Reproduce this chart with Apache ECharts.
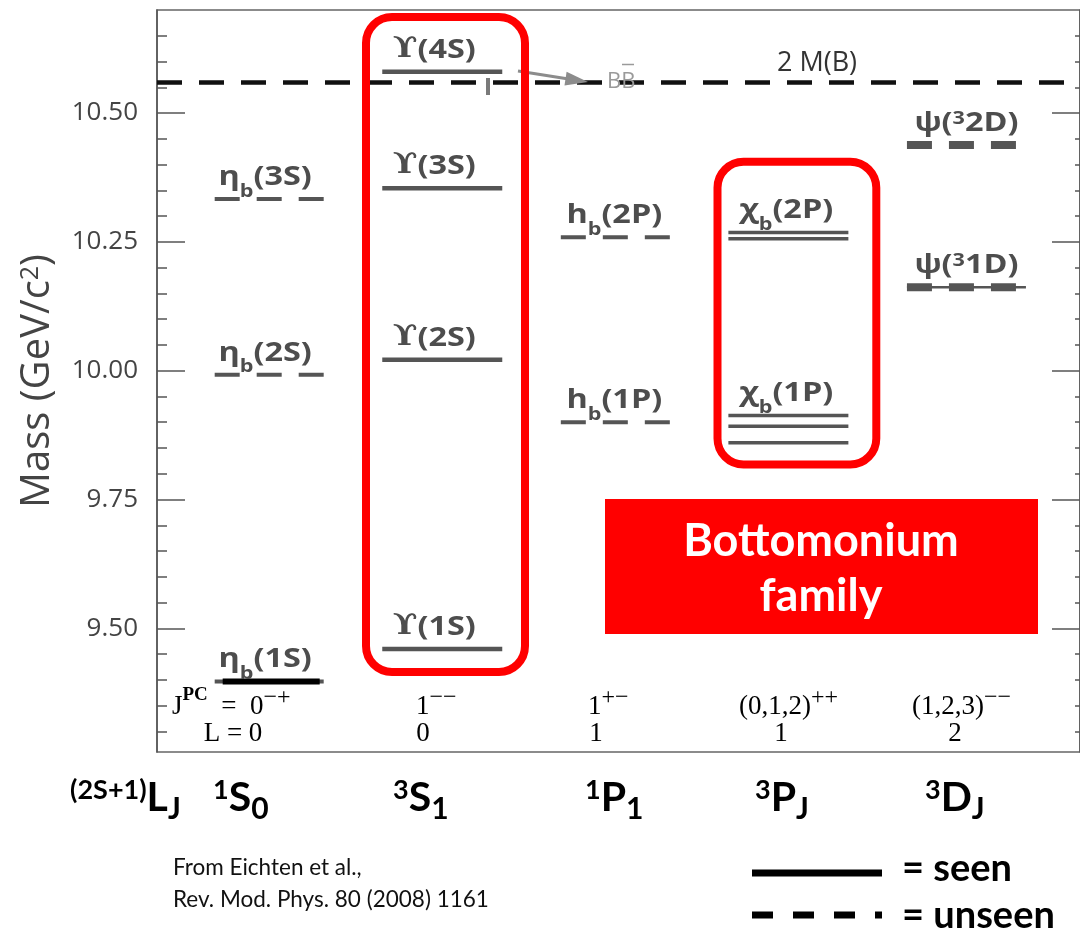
<!DOCTYPE html>
<html>
<head>
<meta charset="utf-8">
<title>Bottomonium family</title>
<script src="https://cdn.jsdelivr.net/npm/echarts@6/dist/echarts.min.js"></script>
<style>
  html, body { margin: 0; padding: 0; background: #ffffff; }
  #chart { width: 1080px; height: 934px; }
</style>
</head>
<body>
<div id="chart"></div>
<script>
// ---------------------------------------------------------------- data
// Spectroscopic columns, left to right: 1S0, 3S1, 1P1, 3PJ, 3DJ
const columnLabels = ['{p|1}{m|S}{b|0}', '{p|3}{m|S}{b|1}', '{p|1}{m|P}{b|1}', '{p|3}{m|P}{b|J}', '{p|3}{m|D}{b|J}'];
const jpcLabels = ['{m|J}{q|PC}{m|  =  0}{p|−+}', '{m|1}{p|−−}', '{m|1}{p|+−}', '{m|(0,1,2)}{p|++}', '{m|(1,2,3)}{p|−−}'];
const orbitalL = ['L = 0', '0', '1', '1', '2'];

// Masses in GeV/c²
const etaMass = [9.397, 9.992, 10.333];               // η_b(1S), η_b(2S), η_b(3S)
const etaNames = ['1S', '2S', '3S'];
const upsilonMass = [9.460, 10.021, 10.354, 10.580];  // ϒ(1S) … ϒ(4S)
const upsilonNames = ['1S', '2S', '3S', '4S'];
const hbMass = [9.900, 10.259];                       // h_b(1P), h_b(2P)
const hbNames = ['1P', '2P'];
const chi1PMass = [9.860, 9.892, 9.913];              // χ_b(1P) triplet
const chi2PMass = [10.256, 10.268];                   // χ_b(2P) triplet (two resolved lines)
const psiMass = [10.162, 10.438];                     // ψ(³1D), ψ(³2D)
const psiNames = ['1D', '2D'];
const bbThreshold = 10.559;                           // 2 M(B)

const massTicks = [9.50, 9.75, 10.00, 10.25, 10.50];

// ---------------------------------------------------------------- layout / styles
const GREY = '#555555';
const LABEL_GREY = '#4d4d4d';
const COL0 = 269.8, COL_STEP = 174, PLOT_LEFT = 157, PLOT_RIGHT = 1085;
const X_MIN = -(COL0 - PLOT_LEFT) / COL_STEP;
const X_MAX = X_MIN + (PLOT_RIGHT - PLOT_LEFT) / COL_STEP;
const Y_MIN = 9.26, Y_MAX = 10.70;

const minorTicks = [];
for (let v = 9.30; v < 10.69; v += 0.05) {
  const r = Math.round(v * 100) / 100;
  if (!massTicks.some(t => Math.abs(t - r) < 1e-6)) minorTicks.push(r);
}

const levelStyles = {
  unseen:     { half: 54.5, width: 4,   dash: [25, 17] },
  seen:       { half: 60,   width: 4.5, dash: null },
  seenThin:   { half: 60,   width: 3.5, dash: null },
  unseenBold: { half: 54.5, width: 8,   dash: [25, 17] },
  partial:    { half: 54.5, width: 8,   dash: [25, 17], thread: 10 },
  mark:       { half: 48.5, width: 6,   dash: null, color: '#000000', shift: 2 }
};

// level list built from the mass arrays
const levels = [];
etaMass.forEach(m => levels.push({ col: 0, mass: m, kind: 'unseen' }));
levels.push({ col: 0, mass: etaMass[0], kind: 'mark' });
upsilonMass.forEach(m => levels.push({ col: 1, mass: m, kind: 'seen' }));
hbMass.forEach(m => levels.push({ col: 2, mass: m, kind: 'unseen' }));
chi1PMass.forEach(m => levels.push({ col: 3, mass: m, kind: 'seenThin' }));
chi2PMass.forEach(m => levels.push({ col: 3, mass: m, kind: 'seenThin' }));
levels.push({ col: 4, mass: psiMass[0], kind: 'partial' });
levels.push({ col: 4, mass: psiMass[1], kind: 'unseenBold' });

// state labels above the levels
const stateLabels = [];
etaMass.forEach((m, i) => stateLabels.push({ col: 0, mass: m, dx: -4, text: '{g|η}{s|b}{g|(' + etaNames[i] + ')}' }));
upsilonMass.forEach((m, i) => stateLabels.push({ col: 1, mass: m, dx: -8, text: '{u|ϒ}{g|(' + upsilonNames[i] + ')}' }));
hbMass.forEach((m, i) => stateLabels.push({ col: 2, mass: m, dx: -1, text: '{g|h}{s|b}{g|(' + hbNames[i] + ')}' }));
stateLabels.push({ col: 3, mass: Math.max(...chi1PMass), dx: -2, text: '{g|χ}{s|b}{g|(1P)}' });
stateLabels.push({ col: 3, mass: Math.max(...chi2PMass), dx: -2, text: '{g|χ}{s|b}{g|(2P)}' });
psiMass.forEach((m, i) => stateLabels.push({ col: 4, mass: m, dx: 5, text: '{g|ψ(}{p|3}{g|' + psiNames[i] + ')}' }));

const stateRich = {
  g: { fontSize: 27, fontFamily: 'Open Sans', fontWeight: 'bold', fill: LABEL_GREY, verticalAlign: 'top', lineHeight: 37 },
  u: { fontSize: 27, fontFamily: 'DejaVu Serif', fontWeight: 'bold', fill: LABEL_GREY, verticalAlign: 'top', lineHeight: 37 },
  s: { fontSize: 18, fontFamily: 'Open Sans', fontWeight: 'bold', fill: LABEL_GREY, verticalAlign: 'bottom', lineHeight: 37 },
  p: { fontSize: 18, fontFamily: 'Open Sans', fontWeight: 'bold', fill: LABEL_GREY, verticalAlign: 'top', lineHeight: 37 }
};

// ---------------------------------------------------------------- chart
const chart = echarts.init(document.getElementById('chart'), null, { renderer: 'canvas' });

function sideAxis(position, ticks, len, withLine) {
  return {
    type: 'value', position, min: Y_MIN, max: Y_MAX,
    axisLine: { show: withLine, onZero: false, lineStyle: { color: GREY, width: 1.5 } },
    axisTick: { show: true, inside: true, length: len, customValues: ticks, lineStyle: { color: GREY, width: 1.5 } },
    axisLabel: { show: false },
    splitLine: { show: false }
  };
}

const leftMajor = sideAxis('left', massTicks, 28, true);
leftMajor.axisLabel = {
  show: true, customValues: massTicks, formatter: v => v.toFixed(2),
  color: '#444444', fontSize: 26, fontFamily: 'Open Sans', margin: 19
};
leftMajor.name = 'Mass (GeV/c{sup|2})';
leftMajor.nameLocation = 'middle';
leftMajor.nameGap = 99;
leftMajor.nameTextStyle = {
  color: '#444444', fontSize: 40, fontFamily: 'Open Sans',
  rich: { sup: { color: '#444444', fontSize: 25, fontFamily: 'Open Sans', verticalAlign: 'top', lineHeight: 25 } }
};

function textEl(x, y, text, rich, align, vAlign, z) {
  return { type: 'text', x, y, z: z || 20, silent: true,
           style: { text, rich, align: align || 'left', verticalAlign: vAlign || 'middle' } };
}

// rich styles for annotation texts outside the plot
const termRich = {
  m: { fontSize: 41, fontFamily: 'Lato', fontWeight: 'bold', fill: '#000', verticalAlign: 'top', lineHeight: 47 },
  p: { fontSize: 27, fontFamily: 'Lato', fontWeight: 'bold', fill: '#000', verticalAlign: 'top', lineHeight: 47 },
  b: { fontSize: 30, fontFamily: 'Lato', fontWeight: 'bold', fill: '#000', verticalAlign: 'bottom', lineHeight: 47 }
};
const jpcRich = {
  m: { fontSize: 27, fontFamily: 'Liberation Serif', fill: '#000', verticalAlign: 'bottom', lineHeight: 35 },
  p: { fontSize: 24, fontFamily: 'Liberation Serif', fill: '#000', verticalAlign: 'top', lineHeight: 35 },
  q: { fontSize: 19, fontFamily: 'Liberation Serif', fontWeight: 'bold', fill: '#000', verticalAlign: 'top', lineHeight: 35 }
};
const lRich = { m: { fontSize: 27, fontFamily: 'Liberation Serif', fill: '#000' } };

const termLeft = [213, 393, 585, 755, 925];
const jpcLeft = [172, 416, 588, 739, 912];
const lCenter = [233, 423, 596, 781, 955];

const graphics = [];
// spectroscopic notation row
graphics.push(textEl(70, 777, '{p|(2S+1)}{m|L}{b|J}', termRich, 'left', 'top'));
columnLabels.forEach((t, i) => graphics.push(textEl(termLeft[i], 777, t, termRich, 'left', 'top')));
// J^PC and L rows inside the frame
jpcLabels.forEach((t, i) => graphics.push(textEl(jpcLeft[i], 703, t, jpcRich, 'left', 'middle')));
orbitalL.forEach((t, i) => graphics.push(textEl(lCenter[i], 734, '{m|' + t + '}', lRich, 'center', 'middle')));

// 2 M(B) threshold caption and the decay arrow to B B-bar
graphics.push({ type: 'text', x: 817, y: 63, z: 20, style: { text: '2 M(B)', fill: '#333', fontSize: 27, fontFamily: 'Open Sans', align: 'center', verticalAlign: 'middle' } });
graphics.push({ type: 'line', z: 20, shape: { x1: 518, y1: 71, x2: 567, y2: 78.7 }, style: { stroke: '#8c8c8c', lineWidth: 3 } });
graphics.push({ type: 'polygon', z: 20, shape: { points: [[588, 82], [564.5, 85.5], [566.6, 71.8]] }, style: { fill: '#8c8c8c' } });
graphics.push({ type: 'line', z: 20, shape: { x1: 488, y1: 78, x2: 488, y2: 95 }, style: { stroke: '#7a7a7a', lineWidth: 4 } });
graphics.push({ type: 'text', x: 607, y: 82, z: 20, style: { text: 'BB', fill: '#9a9a9a', fontSize: 22, fontFamily: 'Open Sans', align: 'left', verticalAlign: 'middle' } });
graphics.push({ type: 'line', z: 20, shape: { x1: 622, y1: 64.5, x2: 634, y2: 64.5 }, style: { stroke: '#9a9a9a', lineWidth: 1.5 } });

// highlight frames
graphics.push({ type: 'rect', z: 30, shape: { x: 366, y: 17, width: 159, height: 655, r: 26 }, style: { fill: 'none', stroke: '#ff0000', lineWidth: 8 } });
graphics.push({ type: 'rect', z: 30, shape: { x: 717.5, y: 161.7, width: 158.8, height: 302.8, r: 26 }, style: { fill: 'none', stroke: '#ff0000', lineWidth: 8 } });
graphics.push({ type: 'rect', z: 30, shape: { x: 605, y: 499, width: 433, height: 135 }, style: { fill: '#ff0000' } });
graphics.push({ type: 'text', x: 821, y: 541, z: 31, style: { text: 'Bottomonium', fill: '#ffffff', fontSize: 45, fontFamily: 'Lato', fontWeight: 'bold', align: 'center', verticalAlign: 'middle' } });
graphics.push({ type: 'text', x: 821, y: 596, z: 31, style: { text: 'family', fill: '#ffffff', fontSize: 45, fontFamily: 'Lato', fontWeight: 'bold', align: 'center', verticalAlign: 'middle' } });

// citation
graphics.push({ type: 'text', x: 173, y: 868, z: 20, style: { text: 'From Eichten et al.,', fill: '#111', fontSize: 22.5, fontFamily: 'Lato', align: 'left', verticalAlign: 'middle' } });
graphics.push({ type: 'text', x: 173, y: 900, z: 20, style: { text: 'Rev. Mod. Phys. 80 (2008) 1161', fill: '#111', fontSize: 22.5, fontFamily: 'Lato', align: 'left', verticalAlign: 'middle' } });

// seen / unseen key
graphics.push({ type: 'line', z: 20, shape: { x1: 752, y1: 873, x2: 882, y2: 873 }, style: { stroke: '#000', lineWidth: 7 } });
graphics.push({ type: 'line', z: 20, shape: { x1: 752, y1: 915, x2: 882, y2: 915 }, style: { stroke: '#000', lineWidth: 7, lineDash: [21, 20] } });
graphics.push({ type: 'text', x: 902, y: 869, z: 20, style: { text: '= seen', fill: '#000', fontSize: 38, fontFamily: 'Lato', fontWeight: 'bold', align: 'left', verticalAlign: 'middle' } });
graphics.push({ type: 'text', x: 902, y: 916, z: 20, style: { text: '= unseen', fill: '#000', fontSize: 38, fontFamily: 'Lato', fontWeight: 'bold', align: 'left', verticalAlign: 'middle' } });

const option = {
  animation: false,
  backgroundColor: '#ffffff',
  grid: { left: PLOT_LEFT, right: 1080 - PLOT_RIGHT, top: 10, bottom: 182, show: true, borderColor: '#666666', borderWidth: 1.5, backgroundColor: 'transparent' },
  xAxis: { type: 'value', min: X_MIN, max: X_MAX, show: false },
  yAxis: [
    leftMajor,
    sideAxis('left', minorTicks, 10, false),
    sideAxis('right', massTicks, 28, true),
    sideAxis('right', minorTicks, 5, false)
  ],
  series: [
    {
      name: 'levels', type: 'custom', coordinateSystem: 'cartesian2d', clip: false, silent: true, z: 2,
      data: levels.map(l => [l.col, l.mass]),
      renderItem(params, api) {
        const lv = levels[params.dataIndex];
        const st = levelStyles[lv.kind];
        const c = api.coord([api.value(0), api.value(1)]);
        const cx = c[0] + (st.shift || 0);
        const color = st.color || GREY;
        const children = [];
        if (st.thread) {
          children.push({ type: 'line', shape: { x1: cx - st.half, y1: c[1], x2: cx + st.half + st.thread, y2: c[1] },
                          style: { stroke: color, lineWidth: 2.5 } });
        }
        children.push({ type: 'line', shape: { x1: cx - st.half, y1: c[1], x2: cx + st.half, y2: c[1] },
                        style: { stroke: color, lineWidth: st.width, lineDash: st.dash || null, lineCap: 'butt' } });
        return { type: 'group', children };
      },
      markLine: {
        silent: true, symbol: 'none', animation: false,
        label: { show: false },
        lineStyle: { color: '#111111', width: 4.5, type: [25, 17] },
        data: [{ yAxis: bbThreshold }]
      }
    },
    {
      name: 'labels', type: 'custom', coordinateSystem: 'cartesian2d', clip: false, silent: true, z: 3,
      data: stateLabels.map(l => [l.col, l.mass]),
      renderItem(params, api) {
        const lb = stateLabels[params.dataIndex];
        const c = api.coord([api.value(0), api.value(1)]);
        return {
          type: 'text', x: c[0] + lb.dx, y: c[1] - 17, scaleX: 1.2,
          style: { text: lb.text, rich: stateRich, align: 'center', verticalAlign: 'middle' }
        };
      }
    }
  ],
  graphic: graphics
};

chart.setOption(option);
</script>
</body>
</html>
